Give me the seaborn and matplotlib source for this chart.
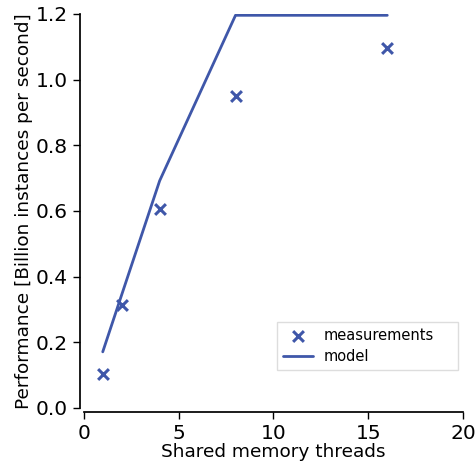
import matplotlib
matplotlib.use("Agg")
import matplotlib.pyplot as plt
import seaborn as sns
import pandas as pd

# data
threads = [1, 2, 4, 8, 16]
measured = [0.104, 0.314, 0.607, 0.950, 1.097]
model = [0.171, 0.345, 0.692, 1.196, 1.196]

df = pd.DataFrame({"threads": threads, "measured": measured, "model": model})

sns.set_theme(style="ticks", rc={"text.color": "black", "axes.labelcolor": "black",
                                 "xtick.color": "black", "ytick.color": "black",
                                 "axes.edgecolor": "black"})
plt.rcParams["font.family"] = ["DejaVu Sans"]
color = "#3F57A9"

fig = plt.figure(figsize=(4.76, 4.66), dpi=100)
ax = fig.add_axes([0.176, 0.1245, 0.797, 0.8455])

sns.scatterplot(data=df, x="threads", y="measured", marker="x", s=60,
                linewidth=2.2, color=color, label="measurements", ax=ax)
sns.lineplot(data=df, x="threads", y="model", color=color, linewidth=2,
             label="model", ax=ax)

ax.set_xlim(0, 20)
ax.set_ylim(0, 1.2)
ax.set_xticks([0, 5, 10, 15, 20])
ax.set_yticks([0.0, 0.2, 0.4, 0.6, 0.8, 1.0, 1.2])
ax.tick_params(labelsize=14.5, length=5, width=1)
ax.set_xlabel("Shared memory threads", fontsize=13.3, labelpad=0)
ax.set_ylabel("Performance [Billion instances per second]", fontsize=13.3, labelpad=2)
sns.despine(ax=ax, offset=3)

leg = ax.legend(loc="lower left", bbox_to_anchor=(0.509, 0.096, 0.478, 0.119),
                mode="expand", fontsize=10.5, frameon=True, fancybox=False,
                framealpha=1, handlelength=2.1, handletextpad=0.7,
                borderpad=0.4, labelspacing=0.45, borderaxespad=0)
leg.get_frame().set_edgecolor("#dddddd")

fig.savefig("out.png", dpi=100)
